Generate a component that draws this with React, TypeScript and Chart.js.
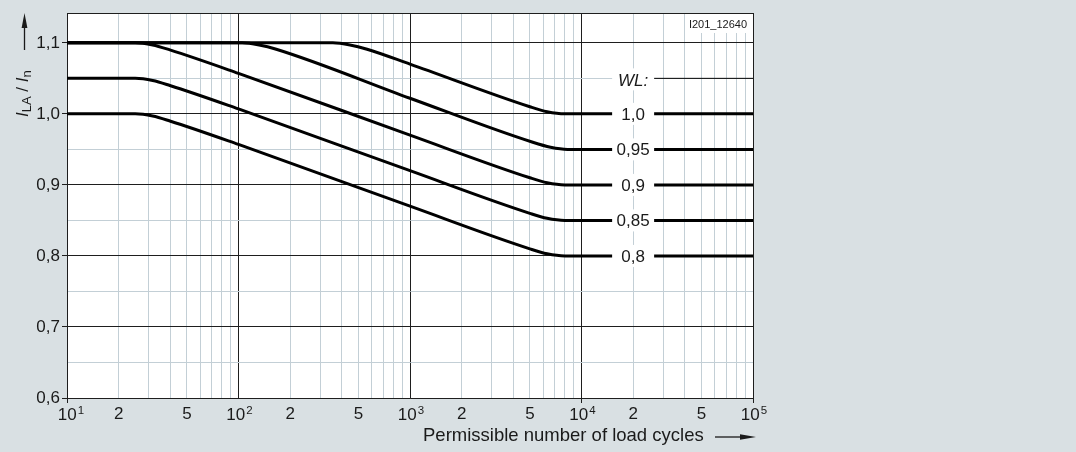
import React, { useEffect, useRef } from 'react';
import { Chart, registerables } from 'chart.js';

Chart.register(...registerables);

// ---- data ----
const wlLevels = [1.0, 0.95, 0.9, 0.85, 0.8];
const wlLabels = ['1,0', '0,95', '0,9', '0,85', '0,8'];
const wlHeader = 'WL:';
const wlHeaderLevel = 1.05;
const labelColumnCycles = 20000;

const wl100Cycles = [10, 355, 447, 562, 1000, 5000, 6300, 8000, 100000];
const wl100Values = [1.1, 1.1, 1.097, 1.091, 1.07, 1.01, 1.003, 1.0, 1.0];

const wl095Cycles = [10, 105, 132, 166, 1000, 5200, 6600, 8300, 100000];
const wl095Values = [1.1, 1.1, 1.097, 1.091, 1.022, 0.96, 0.953, 0.95, 0.95];

const wl090Cycles = [10, 25, 31.6, 39.8, 100, 1000, 5000, 6300, 8000, 100000];
const wl090Values = [1.1, 1.1, 1.097, 1.09, 1.057, 0.97, 0.91, 0.903, 0.9, 0.9];

const wl085Cycles = [10, 25, 31.6, 39.8, 100, 1000, 5000, 6300, 8000, 100000];
const wl085Values = [1.05, 1.05, 1.047, 1.04, 1.007, 0.92, 0.86, 0.853, 0.85, 0.85];

const wl080Cycles = [10, 25, 31.6, 39.8, 100, 1000, 5000, 6300, 8000, 100000];
const wl080Values = [1.0, 1.0, 0.997, 0.99, 0.957, 0.87, 0.81, 0.803, 0.8, 0.8];

const xDecades = [10, 100, 1000, 10000, 100000];
const xDecadeExponents = ['1', '2', '3', '4', '5'];
const xMultipliers = [1, 2, 3, 4, 5, 6, 7, 8, 9];
const xLabeledMultipliers = [2, 5];
const xMin = 10;
const xMax = 100000;

const yTicks = [0.6, 0.65, 0.7, 0.75, 0.8, 0.85, 0.9, 0.95, 1.0, 1.05, 1.1];
const yLabeledTicks = [0.6, 0.7, 0.8, 0.9, 1.0, 1.1];
const yMin = 0.6;
const yMax = 1.142;

const xTitle = 'Permissible number of load cycles';
const drawingId = 'I201_12640';

// ---- styles ----
const FONT = "'Liberation Sans', Arial, Helvetica, sans-serif";
const BG = 'rgb(217,224,227)';
const DARK = '#1e1e1e';
const LIGHT = '#c3cfd6';
const TEXT = '#1a1a1a';

const isDecade = (v: number) => Math.abs(Math.log10(v) - Math.round(Math.log10(v))) < 1e-6;
const isLabeledY = (v: number) => yLabeledTicks.some((t) => Math.abs(t - v) < 1e-6);

const xTickValues: number[] = [];
xDecades.slice(0, 4).forEach((d) => xMultipliers.forEach((m) => xTickValues.push(d * m)));
xTickValues.push(xMax);

const toPoints = (xs: number[], ys: number[]) => xs.map((x, i) => ({ x, y: ys[i] }));

const overlayPlugin = {
  id: 'overlay',
  beforeDraw(chart: any) {
    const { ctx, chartArea } = chart;
    ctx.save();
    ctx.fillStyle = '#fff';
    ctx.fillRect(chartArea.left, chartArea.top, chartArea.right - chartArea.left, chartArea.bottom - chartArea.top);
    ctx.restore();
  },
  afterDatasetsDraw(chart: any) {
    const { ctx, chartArea, scales } = chart;
    const xs = scales.x;
    const ys = scales.y;
    ctx.save();
    const cx = xs.getPixelForValue(labelColumnCycles);
    // series labels
    ctx.textAlign = 'center';
    ctx.textBaseline = 'middle';
    wlLevels.forEach((lv, i) => {
      const py = ys.getPixelForValue(lv);
      ctx.fillStyle = '#fff';
      ctx.fillRect(cx - 21, py - 11, 42, 22);
      ctx.fillStyle = TEXT;
      ctx.font = `17px ${FONT}`;
      ctx.fillText(wlLabels[i], cx, py + 1);
    });
    // WL header
    const hy = ys.getPixelForValue(wlHeaderLevel);
    ctx.fillStyle = '#fff';
    ctx.fillRect(cx - 21, hy - 10, 42, 22);
    ctx.fillStyle = TEXT;
    ctx.font = `italic 17px ${FONT}`;
    ctx.fillText(wlHeader, cx, hy + 3);
    // drawing id
    ctx.fillStyle = '#fff';
    ctx.fillRect(chartArea.right - 67, chartArea.top, 66, 20);
    ctx.fillStyle = TEXT;
    ctx.font = `11px ${FONT}`;
    ctx.textAlign = 'right';
    ctx.fillText(drawingId, chartArea.right - 6, chartArea.top + 12);
    // top border
    ctx.strokeStyle = DARK;
    ctx.lineWidth = 1;
    ctx.beginPath();
    ctx.moveTo(chartArea.left, chartArea.top + 0.5);
    ctx.lineTo(chartArea.right, chartArea.top + 0.5);
    ctx.stroke();
    ctx.restore();
  },
  afterDraw(chart: any) {
    const { ctx, scales } = chart;
    const xs = scales.x;
    ctx.save();
    ctx.fillStyle = TEXT;
    ctx.strokeStyle = TEXT;
    // decade labels with superscripts
    ctx.textBaseline = 'alphabetic';
    ctx.textAlign = 'left';
    xDecades.forEach((d, i) => {
      const px = xs.getPixelForValue(d);
      ctx.font = `17px ${FONT}`;
      const w1 = ctx.measureText('10').width;
      ctx.font = `11.5px ${FONT}`;
      const w2 = ctx.measureText(xDecadeExponents[i]).width;
      const start = px - (w1 + w2 + 1) / 2 + (i === 0 ? 4 : 1);
      ctx.font = `17px ${FONT}`;
      ctx.fillText('10', start, 420);
      ctx.font = `11.5px ${FONT}`;
      ctx.fillText(xDecadeExponents[i], start + w1 + 1, 414);
    });
    // x title
    ctx.font = `18.5px ${FONT}`;
    ctx.textBaseline = 'middle';
    ctx.fillText(xTitle, 423, 436);
    ctx.lineWidth = 1.3;
    ctx.beginPath();
    ctx.moveTo(715, 437);
    ctx.lineTo(744, 437);
    ctx.stroke();
    ctx.beginPath();
    ctx.moveTo(756, 437);
    ctx.lineTo(740, 434.3);
    ctx.lineTo(740, 439.7);
    ctx.closePath();
    ctx.fill();
    // y title (rotated)
    ctx.save();
    ctx.translate(28, 117);
    ctx.rotate(-Math.PI / 2);
    ctx.textBaseline = 'alphabetic';
    let x = 0;
    const part = (t: string, font: string, dy: number) => {
      ctx.font = font;
      ctx.fillText(t, x, dy);
      x += ctx.measureText(t).width;
    };
    part('I', `italic 17px ${FONT}`, 0);
    part('LA', `13px ${FONT}`, 3);
    part(' / ', `17px ${FONT}`, 0);
    part('I', `italic 17px ${FONT}`, 0);
    part('n', `13px ${FONT}`, 3);
    ctx.restore();
    // y arrow
    ctx.lineWidth = 1.3;
    ctx.beginPath();
    ctx.moveTo(24.5, 50);
    ctx.lineTo(24.5, 24);
    ctx.stroke();
    ctx.beginPath();
    ctx.moveTo(24.5, 13);
    ctx.lineTo(21.6, 28);
    ctx.lineTo(27.4, 28);
    ctx.closePath();
    ctx.fill();
    ctx.restore();
  },
};

export default function App() {
  const ref = useRef<HTMLCanvasElement | null>(null);

  useEffect(() => {
    if (!ref.current) return;
    const lineStyle = {
      borderColor: '#000',
      borderWidth: 3,
      pointRadius: 0,
      fill: false,
      cubicInterpolationMode: 'monotone' as const,
      borderCapStyle: 'butt' as const,
    };
    const chart = new Chart(ref.current, {
      type: 'line',
      data: {
        datasets: [
          { label: 'WL 1,0', data: toPoints(wl100Cycles, wl100Values), ...lineStyle },
          { label: 'WL 0,95', data: toPoints(wl095Cycles, wl095Values), ...lineStyle },
          { label: 'WL 0,9', data: toPoints(wl090Cycles, wl090Values), ...lineStyle },
          { label: 'WL 0,85', data: toPoints(wl085Cycles, wl085Values), ...lineStyle },
          { label: 'WL 0,8', data: toPoints(wl080Cycles, wl080Values), ...lineStyle },
          {
            label: 'WL',
            data: [
              { x: labelColumnCycles, y: wlHeaderLevel },
              { x: xMax, y: wlHeaderLevel },
            ],
            borderColor: '#000',
            borderWidth: 1,
            pointRadius: 0,
            fill: false,
          },
        ],
      },
      options: {
        responsive: false,
        animation: false,
        devicePixelRatio: 1,
        layout: { padding: { left: 0, top: 13, right: 323, bottom: 0 } },
        plugins: { legend: { display: false }, tooltip: { enabled: false } },
        scales: {
          x: {
            type: 'logarithmic',
            min: xMin,
            max: xMax,
            afterBuildTicks: (s: any) => {
              s.ticks = xTickValues.map((v) => ({ value: v }));
            },
            afterFit: (s: any) => {
              s.height = 54;
            },
            ticks: {
              autoSkip: false,
              maxRotation: 0,
              padding: 1,
              color: TEXT,
              font: { family: FONT, size: 17 },
              callback: (v: any) => {
                const n = Number(v);
                if (isDecade(n)) return '';
                const m = Math.round(n / Math.pow(10, Math.floor(Math.log10(n) + 1e-9)));
                return xLabeledMultipliers.includes(m) ? String(m) : '';
              },
            },
            grid: {
              color: (c: any) => (isDecade(c.tick.value) ? DARK : LIGHT),
              lineWidth: 1,
              tickLength: 5,
              tickColor: (c: any) =>
                c.tick && (c.tick.value === xMin || c.tick.value === xMax || c.tick.value === 10000)
                  ? DARK
                  : 'rgba(0,0,0,0)',
            },
            border: { color: DARK, width: 1 },
          },
          y: {
            type: 'linear',
            min: yMin,
            max: yMax,
            afterBuildTicks: (s: any) => {
              s.ticks = yTicks.map((v) => ({ value: v }));
            },
            afterFit: (s: any) => {
              s.width = 67;
            },
            ticks: {
              autoSkip: false,
              padding: 2,
              color: TEXT,
              font: { family: FONT, size: 17 },
              callback: (v: any) => (isLabeledY(Number(v)) ? Number(v).toFixed(1).replace('.', ',') : ''),
            },
            grid: {
              color: (c: any) => (isLabeledY(c.tick.value) ? DARK : LIGHT),
              lineWidth: 1,
              tickLength: 5,
              tickColor: (c: any) => (c.tick && isLabeledY(c.tick.value) ? DARK : 'rgba(0,0,0,0)'),
            },
            border: { color: DARK, width: 1 },
          },
        },
      } as any,
      plugins: [overlayPlugin],
    });
    return () => chart.destroy();
  }, []);

  return (
    <div
      style={{
        position: 'absolute',
        left: 0,
        top: 0,
        width: 1076,
        height: 452,
        background: BG,
        overflow: 'hidden',
      }}
    >
      <canvas ref={ref} width={1076} height={452} style={{ display: 'block', background: 'transparent' }} />
    </div>
  );
}
